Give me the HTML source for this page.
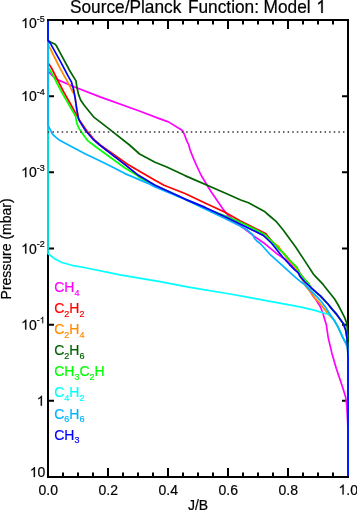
<!DOCTYPE html>
<html><head><meta charset="utf-8"><style>
html,body{margin:0;padding:0;background:#fff;width:357px;height:510px;overflow:hidden}
svg{display:block;will-change:transform}
text{font-family:"Liberation Sans",sans-serif}
</style></head><body>
<svg width="357" height="510" viewBox="0 0 357 510">
<g stroke-width="0.2" stroke="#000" id="txt">
<text transform="translate(0,12.9) scale(1,1.07)" font-size="17.3"><tspan x="69.9" y="0">Source/Planck</tspan><tspan x="187.9" y="0">Function:</tspan><tspan x="263.6" y="0">Model</tspan></text>
<g transform="translate(0,12.9) scale(1,1.07)"><path d="M763 0L583 0L583 1147Q518 1085 412 1023Q306 961 221 930L221 1104Q372 1175 485 1276Q598 1377 645 1472L763 1472Z" transform="translate(316.30,0.00) scale(0.00845,-0.00845)" fill="#000" stroke="#000" stroke-width="23.7"/></g>
<path d="M48.0 20.0H348.0V477.0H48.0Z" fill="none" stroke="#000" stroke-width="2"/>
<path d="M63.0 477.0V472.5M63.0 20.0V24.5M78.0 477.0V472.5M78.0 20.0V24.5M93.0 477.0V472.5M93.0 20.0V24.5M108.0 477.0V468.0M108.0 20.0V29.0M123.0 477.0V472.5M123.0 20.0V24.5M138.0 477.0V472.5M138.0 20.0V24.5M153.0 477.0V472.5M153.0 20.0V24.5M168.0 477.0V468.0M168.0 20.0V29.0M183.0 477.0V472.5M183.0 20.0V24.5M198.0 477.0V472.5M198.0 20.0V24.5M213.0 477.0V472.5M213.0 20.0V24.5M228.0 477.0V468.0M228.0 20.0V29.0M243.0 477.0V472.5M243.0 20.0V24.5M258.0 477.0V472.5M258.0 20.0V24.5M273.0 477.0V472.5M273.0 20.0V24.5M288.0 477.0V468.0M288.0 20.0V29.0M303.0 477.0V472.5M303.0 20.0V24.5M318.0 477.0V472.5M318.0 20.0V24.5M333.0 477.0V472.5M333.0 20.0V24.5M48.0 96.17H54.0M348.0 96.17H342.0M48.0 172.33H54.0M348.0 172.33H342.0M48.0 248.50H54.0M348.0 248.50H342.0M48.0 324.67H54.0M348.0 324.67H342.0M48.0 400.83H54.0M348.0 400.83H342.0" fill="none" stroke="#000" stroke-width="2"/>
<polyline points="48.0,20.0 48.0,72.0 49.0,72.1 52.8,76.3 57.4,79.6 74.0,86.8 100.0,96.9 140.0,111.3 160.0,118.9 168.4,121.9 182.4,130.5 184.1,133.8 186.9,141.1 188.8,145.0 190.1,150.0 193.4,158.4 196.8,166.0 201.0,175.0 207.4,185.7 211.3,192.0 223.6,209.9 228.1,215.5 241.8,226.9 249.1,232.3 254.0,236.1 265.0,243.8 277.7,254.3 287.4,260.8 290.8,264.1 294.5,268.8 298.6,272.8 301.0,277.0 305.0,284.2 309.5,290.6 313.2,296.2 315.8,299.6 320.5,307.0 322.9,313.2 324.7,319.5 326.4,325.0 328.2,337.6 331.8,352.9 336.3,368.5 339.5,378.0 342.7,387.6 345.6,397.0 346.8,405.3 347.4,417.0 348.0,430.0 348.0,477.0" fill="none" stroke="#ff00ff" stroke-width="1.7" stroke-linejoin="round" stroke-linecap="round"/>
<polyline points="48.0,20.0 48.0,63.5 49.0,64.1 51.5,68.0 63.7,92.0 71.1,105.0 76.7,115.1 80.5,121.8 86.8,130.8 95.0,140.5 100.3,145.0 127.5,164.2 155.0,180.2 164.0,185.2 185.0,193.5 205.0,202.9 225.0,212.3 240.0,220.7 255.0,228.3 265.5,233.4 271.8,241.0 279.4,249.4 283.1,252.6 290.4,261.0 296.6,267.1 300.1,273.7 304.2,278.8 308.3,283.3 311.2,287.8 316.8,292.8 320.6,296.2 327.9,304.0 332.5,309.6 336.7,314.4 341.4,320.9 343.8,324.2 344.7,327.5 345.7,330.0 346.9,337.6 347.6,345.5 348.0,358.0 348.0,477.0" fill="none" stroke="#ff0000" stroke-width="1.7" stroke-linejoin="round" stroke-linecap="round"/>
<polyline points="48.0,20.0 48.0,45.6 48.9,46.0 59.9,68.0 68.0,82.6 73.0,92.7 73.5,89.3 75.1,97.7 76.8,109.6 78.5,118.6 80.1,121.8 85.7,130.8 93.5,139.7 99.7,145.0 125.0,164.6 138.4,175.3 155.0,185.2 185.0,199.1 205.0,207.4 225.0,216.8 240.0,223.9 255.0,231.3 263.4,235.5 278.4,246.2 282.6,252.5 287.6,259.3 293.2,264.9 296.0,268.5 300.1,276.2 303.5,281.5 305.7,286.4 308.8,289.8 311.2,292.8 315.1,298.4 318.9,302.0 324.5,309.3 328.2,314.3 332.5,318.1 334.6,321.0 338.1,327.1 342.5,336.8 346.5,344.7 347.5,347.0 348.0,350.0 348.0,477.0" fill="none" stroke="#ff8c00" stroke-width="1.7" stroke-linejoin="round" stroke-linecap="round"/>
<polyline points="48.0,20.0 48.0,40.5 51.0,42.2 55.2,44.3 56.5,46.0 60.3,53.1 68.3,68.0 69.3,70.0 76.0,80.9 76.8,86.8 78.5,94.4 80.6,100.0 84.0,105.0 93.5,116.8 110.0,129.6 129.5,145.0 139.6,154.0 155.0,162.2 166.2,166.7 185.0,175.6 225.0,193.0 240.7,200.0 248.5,202.8 265.0,211.8 268.5,215.0 276.4,221.7 283.2,230.0 295.8,247.2 303.8,259.4 313.5,274.2 315.4,276.4 323.1,284.4 328.4,291.2 334.6,299.0 337.6,304.0 341.4,311.1 344.7,317.6 346.6,322.8 347.3,328.0 348.0,335.0 348.0,477.0" fill="none" stroke="#006400" stroke-width="1.7" stroke-linejoin="round" stroke-linecap="round"/>
<polyline points="48.0,20.0 48.0,67.5 49.0,68.3 52.8,75.0 61.6,92.0 70.0,106.7 75.6,116.2 76.7,122.9 79.0,128.5 84.6,136.4 87.9,140.9 93.5,145.0 95.0,146.3 120.8,165.0 125.0,168.0 136.2,174.7 139.6,177.5 155.0,185.2 185.0,199.1 205.0,208.5 212.4,211.0 225.0,215.7 240.0,222.1 255.0,229.2 265.1,234.7 271.8,241.0 279.4,249.4 283.1,252.6 290.4,261.0 296.6,267.1 300.1,273.7 304.2,278.8 308.3,283.3 311.2,287.8 316.8,292.8 320.6,296.2 327.9,304.0 332.5,309.6 336.7,314.4 341.4,320.9 343.8,324.2 344.7,327.5 345.7,330.0 346.9,337.6 347.6,345.5 348.0,358.0 348.0,477.0" fill="none" stroke="#00ff00" stroke-width="1.7" stroke-linejoin="round" stroke-linecap="round"/>
<polyline points="48.0,20.0 48.0,253.5 50.7,255.7 55.2,259.1 61.9,262.5 72.0,265.3 84.0,267.5 120.0,274.9 160.0,281.6 190.0,287.3 230.0,294.0 250.0,297.7 300.0,306.8 315.0,310.4 320.6,312.1 326.2,313.8 329.4,314.6 329.6,313.8 332.5,318.1 334.6,321.0 338.1,327.1 342.5,336.8 346.5,344.7 347.5,347.0 348.0,350.0 348.0,477.0" fill="none" stroke="#00ffff" stroke-width="1.7" stroke-linejoin="round" stroke-linecap="round"/>
<polyline points="48.0,20.0 48.0,125.0 50.6,130.3 52.5,134.2 54.5,136.2 59.6,140.3 85.0,153.7 95.0,158.6 108.4,165.0 125.0,173.6 147.4,183.1 155.0,186.9 186.4,200.0 205.0,209.1 225.0,218.5 240.0,226.0 247.0,229.8 252.6,234.7 254.4,238.2 256.8,241.0 260.0,243.2 269.4,253.8 285.0,267.9 294.0,276.2 300.0,281.2 305.6,285.3 311.2,291.1 316.8,296.7 321.7,302.0 326.2,308.2 329.6,313.8 332.5,318.1 334.6,321.0 338.1,327.1 342.5,336.8 346.5,344.7 347.5,347.0 348.0,350.0 348.0,477.0" fill="none" stroke="#00b4ff" stroke-width="1.7" stroke-linejoin="round" stroke-linecap="round"/>
<polyline points="48.0,20.0 48.0,40.5 51.0,44.3 54.4,50.6 58.6,58.2 63.2,66.6 68.0,75.9 71.4,81.8 73.5,89.3 75.1,97.7 76.8,109.6 78.5,118.6 80.1,121.8 85.7,130.8 93.5,139.7 99.7,145.0 125.0,164.6 138.4,175.3 155.0,185.2 185.0,199.1 205.0,207.4 225.0,216.8 240.0,223.9 255.0,231.3 263.4,235.5 271.8,243.5 282.6,257.0 289.3,264.3 294.5,269.6 298.1,272.6 300.3,276.8 305.0,282.0 311.2,287.8 316.8,292.8 320.6,296.2 327.9,304.0 332.5,309.6 336.7,314.4 341.4,320.9 343.8,324.2 344.7,327.5 345.7,330.0 346.9,337.6 347.6,345.5 348.0,358.0 348.0,477.0" fill="none" stroke="#0000ff" stroke-width="1.7" stroke-linejoin="round" stroke-linecap="round"/>
<path d="M47.85 131.9h1.5M52.46 131.9h1.5M57.07 131.9h1.5M61.68 131.9h1.5M66.29 131.9h1.5M70.91 131.9h1.5M75.52 131.9h1.5M80.13 131.9h1.5M84.74 131.9h1.5M89.35 131.9h1.5M93.96 131.9h1.5M98.57 131.9h1.5M103.18 131.9h1.5M107.79 131.9h1.5M112.40 131.9h1.5M117.01 131.9h1.5M121.63 131.9h1.5M126.24 131.9h1.5M130.85 131.9h1.5M135.46 131.9h1.5M140.07 131.9h1.5M144.68 131.9h1.5M149.29 131.9h1.5M153.90 131.9h1.5M158.51 131.9h1.5M163.12 131.9h1.5M167.74 131.9h1.5M172.35 131.9h1.5M176.96 131.9h1.5M181.57 131.9h1.5M186.18 131.9h1.5M190.79 131.9h1.5M195.40 131.9h1.5M200.01 131.9h1.5M204.62 131.9h1.5M209.23 131.9h1.5M213.85 131.9h1.5M218.46 131.9h1.5M223.07 131.9h1.5M227.68 131.9h1.5M232.29 131.9h1.5M236.90 131.9h1.5M241.51 131.9h1.5M246.12 131.9h1.5M250.73 131.9h1.5M255.34 131.9h1.5M259.96 131.9h1.5M264.57 131.9h1.5M269.18 131.9h1.5M273.79 131.9h1.5M278.40 131.9h1.5M283.01 131.9h1.5M287.62 131.9h1.5M292.23 131.9h1.5M296.84 131.9h1.5M301.45 131.9h1.5M306.07 131.9h1.5M310.68 131.9h1.5M315.29 131.9h1.5M319.90 131.9h1.5M324.51 131.9h1.5M329.12 131.9h1.5M333.73 131.9h1.5M338.34 131.9h1.5M342.95 131.9h1.5" stroke="#333" stroke-width="1.5" fill="none"/>
<path d="M47.0 20.0H349.0M47.0 477.0H349.0" fill="none" stroke="#000" stroke-width="2"/>
<g font-size="14" text-anchor="middle">
<text x="48.2" y="494.5">0.0</text>
<text x="108.2" y="494.5">0.2</text>
<text x="168.2" y="494.5">0.4</text>
<text x="228.2" y="494.5">0.6</text>
<text x="288.2" y="494.5">0.8</text>
<text x="198" y="509.6">J/B</text>
</g>
<path d="M763 0L583 0L583 1147Q518 1085 412 1023Q306 961 221 930L221 1104Q372 1175 485 1276Q598 1377 645 1472L763 1472Z" transform="translate(21.13,28.00) scale(0.00684,-0.00684)" fill="#000" stroke="#000" stroke-width="29.3"/>
<text x="36.7" y="28" font-size="14" text-anchor="end">0</text>
<text x="36.8" y="21.8" font-size="9">-5</text>
<path d="M763 0L583 0L583 1147Q518 1085 412 1023Q306 961 221 930L221 1104Q372 1175 485 1276Q598 1377 645 1472L763 1472Z" transform="translate(21.13,101.00) scale(0.00684,-0.00684)" fill="#000" stroke="#000" stroke-width="29.3"/>
<text x="36.7" y="101" font-size="14" text-anchor="end">0</text>
<text x="36.8" y="94.6" font-size="9">-4</text>
<path d="M763 0L583 0L583 1147Q518 1085 412 1023Q306 961 221 930L221 1104Q372 1175 485 1276Q598 1377 645 1472L763 1472Z" transform="translate(21.13,177.20) scale(0.00684,-0.00684)" fill="#000" stroke="#000" stroke-width="29.3"/>
<text x="36.7" y="177.2" font-size="14" text-anchor="end">0</text>
<text x="36.8" y="170.9" font-size="9">-3</text>
<path d="M763 0L583 0L583 1147Q518 1085 412 1023Q306 961 221 930L221 1104Q372 1175 485 1276Q598 1377 645 1472L763 1472Z" transform="translate(21.13,253.50) scale(0.00684,-0.00684)" fill="#000" stroke="#000" stroke-width="29.3"/>
<text x="36.7" y="253.5" font-size="14" text-anchor="end">0</text>
<text x="36.8" y="247.2" font-size="9">-2</text>
<path d="M763 0L583 0L583 1147Q518 1085 412 1023Q306 961 221 930L221 1104Q372 1175 485 1276Q598 1377 645 1472L763 1472Z" transform="translate(21.13,329.60) scale(0.00684,-0.00684)" fill="#000" stroke="#000" stroke-width="29.3"/>
<text x="36.7" y="329.6" font-size="14" text-anchor="end">0</text>
<text x="36.8" y="323.3" font-size="9">-</text>
<path d="M763 0L583 0L583 1147Q518 1085 412 1023Q306 961 221 930L221 1104Q372 1175 485 1276Q598 1377 645 1472L763 1472Z" transform="translate(39.80,323.30) scale(0.00439,-0.00439)" fill="#000" stroke="#000" stroke-width="45.5"/>
<path d="M763 0L583 0L583 1147Q518 1085 412 1023Q306 961 221 930L221 1104Q372 1175 485 1276Q598 1377 645 1472L763 1472Z" transform="translate(36.72,405.70) scale(0.00684,-0.00684)" fill="#000" stroke="#000" stroke-width="29.3"/>
<path d="M763 0L583 0L583 1147Q518 1085 412 1023Q306 961 221 930L221 1104Q372 1175 485 1276Q598 1377 645 1472L763 1472Z" transform="translate(29.73,477.10) scale(0.00684,-0.00684)" fill="#000" stroke="#000" stroke-width="29.3"/>
<text x="45.3" y="477.1" font-size="14" text-anchor="end">0</text>
<path d="M763 0L583 0L583 1147Q518 1085 412 1023Q306 961 221 930L221 1104Q372 1175 485 1276Q598 1377 645 1472L763 1472Z" transform="translate(338.47,494.50) scale(0.00684,-0.00684)" fill="#000" stroke="#000" stroke-width="29.3"/>
<text x="346.25" y="494.5" font-size="14">.0</text>
<text transform="translate(10.5,248.9) rotate(-90)" font-size="14" text-anchor="middle">Pressure (mbar)</text>
<g font-size="14">
<text x="54.2" y="291.8" fill="#f0f" stroke="#f0f">CH<tspan font-size="9" dy="3.8">4</tspan></text>
<text x="54.2" y="312.9" fill="#f00" stroke="#f00">C<tspan font-size="9" dy="3.8">2</tspan><tspan dy="-3.8">H</tspan><tspan font-size="9" dy="3.8">2</tspan></text>
<text x="54.2" y="334.0" fill="#ff8c00" stroke="#ff8c00">C<tspan font-size="9" dy="3.8">2</tspan><tspan dy="-3.8">H</tspan><tspan font-size="9" dy="3.8">4</tspan></text>
<text x="54.2" y="355.1" fill="#006400" stroke="#006400">C<tspan font-size="9" dy="3.8">2</tspan><tspan dy="-3.8">H</tspan><tspan font-size="9" dy="3.8">6</tspan></text>
<text x="54.2" y="376.2" fill="#00ff00" stroke="#00ff00">CH<tspan font-size="9" dy="3.8">3</tspan><tspan dy="-3.8">C</tspan><tspan font-size="9" dy="3.8">2</tspan><tspan dy="-3.8">H</tspan></text>
<text x="54.2" y="397.4" fill="#00ffff" stroke="#00ffff">C<tspan font-size="9" dy="3.8">4</tspan><tspan dy="-3.8">H</tspan><tspan font-size="9" dy="3.8">2</tspan></text>
<text x="54.2" y="418.5" fill="#00b4ff" stroke="#00b4ff">C<tspan font-size="9" dy="3.8">6</tspan><tspan dy="-3.8">H</tspan><tspan font-size="9" dy="3.8">6</tspan></text>
<text x="54.2" y="439.6" fill="#00f" stroke="#00f">CH<tspan font-size="9" dy="3.8">3</tspan></text>
</g>
</g>
</svg>
</body></html>
